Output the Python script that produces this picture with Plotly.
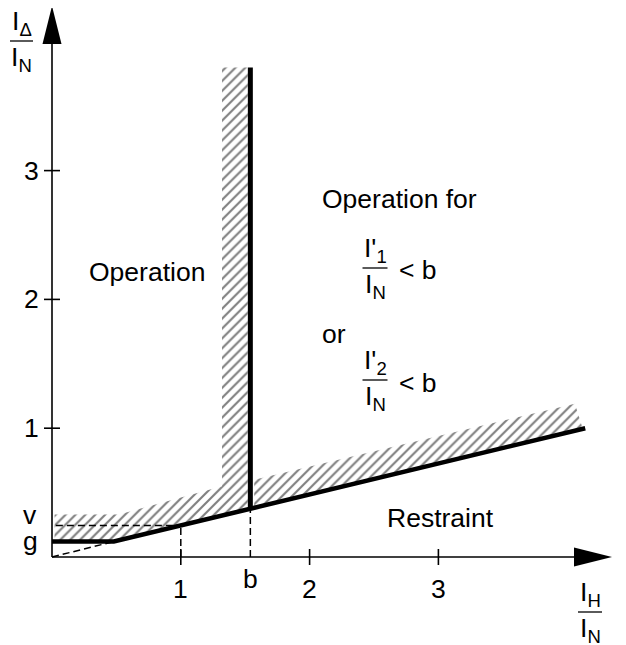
import plotly.graph_objects as go

W, H = 626, 645
OFF = 8                          # default page margin of the html body
X0, Y0, S = 52.0, 557.0, 128.8   # page pixel of origin, pixels per unit

# ---------------- data ----------------
x_ticks = [1, 2, 3]
y_ticks = [1, 2, 3]
x_tick_labels = ["1", "2", "3"]
y_tick_labels = ["1", "2", "3"]
g_val = 0.12
v_val = 0.245
b_val = 1.54
knee_x = 0.48
char_x = [0.0, 0.48, 4.14]
char_y = [0.12, 0.12, 1.0]
b_line_y = [0.375, 3.80]
hatch_left_x = [0.02, 0.52, 1.32, 1.32, 1.52, 1.52, 0.48, 0.02]
hatch_left_y = [0.33, 0.33, 0.55, 3.80, 3.80, 0.371, 0.12, 0.12]
hatch_right_x = [1.57, 1.57, 4.06, 4.12]
hatch_right_y = [0.383, 0.60, 1.19, 0.997]
region_labels = ["Operation", "Operation for", "or", "Restraint"]

FONT = "Liberation Sans, Arial, sans-serif"
FS = 26.5


def X(p):
    return (p - X0) / S


def Y(p):
    return (Y0 - p) / S


fig = go.Figure()

pat = dict(shape="/", size=7, solidity=0.3, fgcolor="#000000", bgcolor="white")
for hx, hy in [(hatch_left_x, hatch_left_y), (hatch_right_x, hatch_right_y)]:
    fig.add_trace(go.Scatter(x=hx, y=hy, mode="lines", fill="toself",
                             fillcolor="white", fillpattern=pat,
                             line=dict(width=0), hoverinfo="skip", showlegend=False))

dash = dict(color="black", width=1.5, dash="7px,4px")
# dashed helper lines
fig.add_trace(go.Scatter(x=[0.03, 1], y=[v_val, v_val], mode="lines", line=dash, showlegend=False))
fig.add_trace(go.Scatter(x=[1, 1], y=[0, v_val], mode="lines", line=dash, showlegend=False))
fig.add_trace(go.Scatter(x=[b_val, b_val], y=[0, b_line_y[0]], mode="lines", line=dash, showlegend=False))
fig.add_trace(go.Scatter(x=[0, knee_x], y=[0, g_val], mode="lines", line=dash, showlegend=False))

# characteristic
fig.add_trace(go.Scatter(x=char_x, y=char_y, mode="lines",
                         line=dict(color="black", width=4.5), showlegend=False))
fig.add_trace(go.Scatter(x=[b_val, b_val], y=b_line_y, mode="lines",
                         line=dict(color="black", width=5), showlegend=False))

shapes = []
ax = dict(type="line", xref="x", yref="y", line=dict(color="black", width=1.6))
shapes.append(dict(ax, x0=0, y0=0, x1=0, y1=Y(44)))
shapes.append(dict(ax, x0=0, y0=0, x1=X(575), y1=0))
for t in y_ticks:
    shapes.append(dict(ax, x0=X(44), y0=t, x1=X(60), y1=t))
for t in x_ticks:
    shapes.append(dict(ax, x0=t, y0=Y(549), x1=t, y1=Y(565)))
# arrow heads
shapes.append(dict(type="path", xref="x", yref="y", fillcolor="black", line=dict(width=0),
                   path=f"M {X(52)},{Y(6)} L {X(42.5)},{Y(44)} L {X(61.5)},{Y(44)} Z"))
shapes.append(dict(type="path", xref="x", yref="y", fillcolor="black", line=dict(width=0),
                   path=f"M {X(612)},{Y(557)} L {X(574)},{Y(547.5)} L {X(574)},{Y(566.5)} Z"))

annotations = []


def txt(s, xp, yp, xanchor="center", yanchor="middle", size=FS):
    annotations.append(dict(text=s, x=X(xp), y=Y(yp), xref="x", yref="y",
                            showarrow=False, xanchor=xanchor, yanchor=yanchor,
                            font=dict(family=FONT, size=size, color="black")))


def frac(top, bot, cx, bar_y, hw):
    shapes.append(dict(ax, x0=X(cx - hw), y0=Y(bar_y), x1=X(cx + hw), y1=Y(bar_y),
                       line=dict(color="black", width=1.3)))
    txt(top, cx, bar_y + 1, yanchor="bottom")
    txt(bot, cx, bar_y - 1, yanchor="top")


for t, lab in zip(x_ticks, x_tick_labels):
    annotations.append(dict(text=lab, x=t, y=Y(589), xref="x", yref="y", showarrow=False,
                            font=dict(family=FONT, size=FS, color="black")))
txt("b", X0 + b_val * S, 579)
for t, lab in zip(y_ticks, y_tick_labels):
    annotations.append(dict(text=lab, x=X(31), y=t, xref="x", yref="y", showarrow=False,
                            font=dict(family=FONT, size=FS, color="black")))
txt("v", 30, 515)
txt("g", 30, 541)

txt(region_labels[0], 147, 272)
txt(region_labels[1], 320, 199, xanchor="left")
txt(region_labels[2], 320, 334, xanchor="left")
txt(region_labels[3], 440, 518)

frac("I'<sub>1</sub>", "I<sub>N</sub>", 375, 268, 12.5)
txt("< b", 397, 270, xanchor="left")
frac("I'<sub>2</sub>", "I<sub>N</sub>", 375, 380, 12.5)
txt("< b", 397, 383, xanchor="left")

frac("I<sub>Δ</sub>", "I<sub>N</sub>", 21.5, 41, 11.5)
frac("I<sub>H</sub>", "I<sub>N</sub>", 590, 612, 12)

fig.update_layout(
    width=W, height=H, autosize=False,
    margin=dict(l=0, r=0, t=0, b=0),
    paper_bgcolor="white", plot_bgcolor="white",
    xaxis=dict(range=[X(OFF), X(OFF + W)], visible=False, fixedrange=True),
    yaxis=dict(range=[Y(OFF + H), Y(OFF)], visible=False, fixedrange=True),
    shapes=shapes, annotations=annotations, showlegend=False,
)

fig.write_html("out.html")
